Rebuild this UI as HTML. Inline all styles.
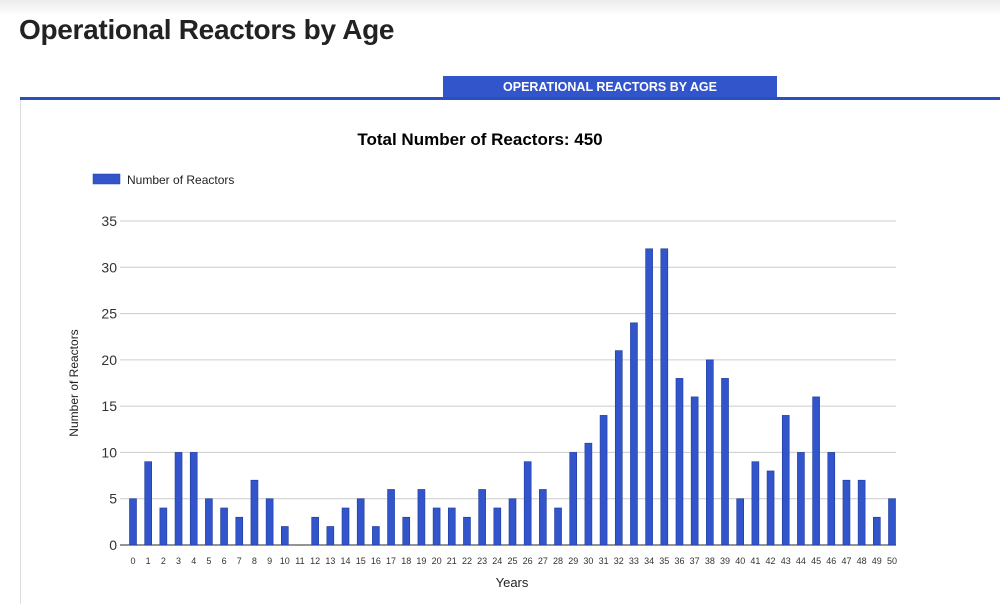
<!DOCTYPE html>
<html><head><meta charset="utf-8"><style>
body{margin:0;width:1000px;height:604px;overflow:hidden;background:#fff;font-family:"Liberation Sans",Arial,sans-serif;position:relative}
.topbar{position:absolute;left:0;top:0;width:1000px;height:16px;background:linear-gradient(#ececec,#fff)}
h1{position:absolute;left:19px;top:14px;margin:0;font-size:28px;font-weight:bold;color:#222;letter-spacing:-0.3px}
.tab{position:absolute;left:443px;top:76px;width:334px;height:22px;background:#3355cc;color:#fff;font-size:12.5px;font-weight:bold;text-align:center;line-height:23px}
.rule{position:absolute;left:20px;top:97px;width:980px;height:3px;background:#2a4fbf}
.box{position:absolute;left:20px;top:100px;width:980px;height:504px;border-left:1px solid #ddd}
svg{position:absolute;left:0;top:0}
</style></head><body>
<div class="topbar"></div>
<h1>Operational Reactors by Age</h1>
<div class="tab">OPERATIONAL REACTORS BY AGE</div>
<div class="rule"></div>
<div class="box"></div>
<svg id="chart" width="1000" height="604">
<text x="480" y="145" text-anchor="middle" font-size="17" font-weight="bold" fill="#000">Total Number of Reactors: 450</text>
<rect x="93" y="174" width="27" height="10" fill="#3355cc" stroke="#2040a0" stroke-width="0.5"/>
<text x="127" y="184" font-size="12" fill="#222">Number of Reactors</text>
<text transform="translate(78,383) rotate(-90)" text-anchor="middle" font-size="12" fill="#222">Number of Reactors</text>
<text x="512" y="587" text-anchor="middle" font-size="13" fill="#222">Years</text>
<g id="grid"></g><g id="bars"></g><g id="xlabels"></g>
</svg>
<script>
const categories=[];for(let i=0;i<=50;i++)categories.push(String(i));
const values=[5,9,4,10,10,5,4,3,7,5,2,0,3,2,4,5,2,6,3,6,4,4,3,6,4,5,9,6,4,10,11,14,21,24,32,32,18,16,20,18,5,9,8,14,10,16,10,7,7,3,5];
const yTicks=[0,5,10,15,20,25,30,35];
const NS="http://www.w3.org/2000/svg";
const y0=545,y35=221,yMax=35,xL=120,xR=896,c0=133,c50=892;
function yScale(v){return y0-(v/yMax)*(y0-y35);}
function xScale(i){return c0+i*(c50-c0)/(categories.length-1);}
const grid=document.getElementById('grid');
yTicks.forEach(t=>{
 const l=document.createElementNS(NS,'line');
 l.setAttribute('x1',xL);l.setAttribute('x2',xR);l.setAttribute('y1',yScale(t));l.setAttribute('y2',yScale(t));
 l.setAttribute('stroke',t===0?'#555':'#ccc');l.setAttribute('stroke-width',t===0?1.2:1);
 
 
 grid.appendChild(l);
 const tx=document.createElementNS(NS,'text');
 tx.setAttribute('x',117);tx.setAttribute('y',yScale(t)+5);tx.setAttribute('text-anchor','end');
 tx.setAttribute('font-size','14');tx.setAttribute('fill','#333');tx.textContent=t;
 
 
 grid.appendChild(tx);
});
const bars=document.getElementById('bars'),xl=document.getElementById('xlabels');
values.forEach((v,i)=>{
 const cx=xScale(i);
 if(v>0){
  const r=document.createElementNS(NS,'rect');
  r.setAttribute('x',cx-3.5);r.setAttribute('width',7);r.setAttribute('y',yScale(v));r.setAttribute('height',y0-yScale(v));
  r.setAttribute('fill','#3355cc');r.setAttribute('stroke','#1f3a99');r.setAttribute('stroke-width','0.6');
  
  
  bars.appendChild(r);
 }
 const t=document.createElementNS(NS,'text');
 t.setAttribute('x',cx);t.setAttribute('y',564);t.setAttribute('text-anchor','middle');
 t.setAttribute('font-size','9');t.setAttribute('fill','#333');t.textContent=categories[i];
 
 
 xl.appendChild(t);
});
</script>
</body></html>
